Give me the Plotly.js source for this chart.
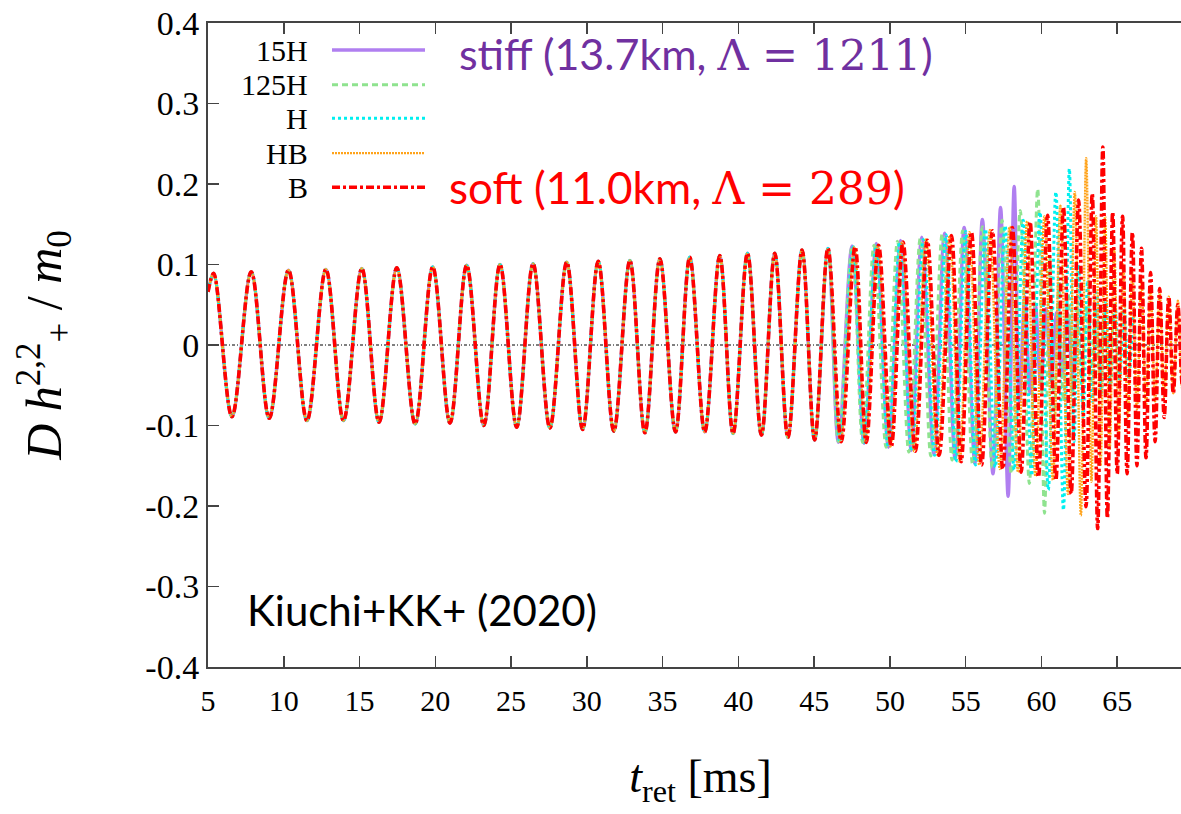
<!DOCTYPE html>
<html>
<head>
<meta charset="utf-8">
<script src="https://cdn.plot.ly/plotly-3.0.1.min.js"></script>
<style>
html,body{margin:0;padding:0;overflow:hidden;background:#fff;}
#chart{width:1200px;height:814px;}
</style>
</head>
<body>
<div id="chart"></div>
<script>
// ---- data: extrema (peaks / troughs), t in ms, h = D h+ / m0 ----
// inspiral part, common to all five models (the curves lie on top of each other)
const sharedT = [5.0, 5.37, 6.58, 7.85, 9.04, 10.31, 11.53, 12.78, 13.94, 15.15, 16.29, 17.46, 18.67, 19.83, 20.97, 22.07, 23.20, 24.27, 25.37, 26.45, 27.56, 28.67, 29.72, 30.75, 31.78, 32.84, 33.83, 34.82, 35.85, 36.79, 37.78, 38.77, 39.65, 40.60, 41.52, 42.40, 43.27, 44.20, 45.03, 45.91];
const sharedH = [0.066, 0.089, -0.089, 0.091, -0.091, 0.093, -0.094, 0.094, -0.094, 0.095, -0.096, 0.096, -0.098, 0.097, -0.097, 0.099, -0.100, 0.100, -0.102, 0.101, -0.103, 0.103, -0.105, 0.104, -0.107, 0.105, -0.109, 0.107, -0.108, 0.109, -0.108, 0.111, -0.110, 0.114, -0.112, 0.114, -0.115, 0.118, -0.118, 0.120];

// late inspiral, merger and post-merger, per model
const t15H = [46.60, 47.50, 48.30, 49.10, 49.90, 50.70, 51.40, 52.10, 52.90, 53.60, 54.30, 54.90, 55.60, 56.10, 56.80, 57.30, 57.80, 58.20, 58.55, 58.90, 59.25, 59.60, 59.95, 60.30, 60.65, 61.00, 61.35, 61.70, 62.05, 62.40];
const h15H = [-0.121, 0.123, -0.122, 0.126, -0.127, 0.130, -0.131, 0.134, -0.136, 0.139, -0.141, 0.146, -0.147, 0.156, -0.160, 0.171, -0.188, 0.197, -0.070, 0.060, -0.060, 0.050, -0.050, 0.045, -0.045, 0.040, -0.040, 0.040, -0.035, 0.035];

const t125H = [46.60, 47.50, 48.20, 48.95, 49.75, 50.50, 51.25, 52.00, 52.70, 53.45, 54.10, 54.80, 55.45, 56.10, 56.75, 57.40, 58.00, 58.60, 59.20, 59.75, 60.20, 60.55, 60.85, 61.15, 61.45, 61.75, 62.05, 62.35, 62.65, 62.95, 63.25, 63.55, 63.85, 64.15, 64.45, 64.75];
const h125H = [-0.120, 0.122, -0.121, 0.124, -0.127, 0.129, -0.133, 0.132, -0.138, 0.138, -0.143, 0.142, -0.148, 0.147, -0.152, 0.155, -0.160, 0.167, -0.172, 0.194, -0.209, 0.110, -0.090, 0.080, -0.070, 0.065, -0.060, 0.055, -0.050, 0.050, -0.045, 0.045, -0.040, 0.040, -0.035, 0.035];

const tH = [46.70, 47.58, 48.30, 49.10, 49.90, 50.65, 51.45, 52.20, 52.95, 53.70, 54.35, 55.00, 55.65, 56.30, 56.95, 57.60, 58.20, 58.80, 59.35, 59.90, 60.45, 60.95, 61.45, 61.84, 62.15, 62.45, 62.75, 63.05, 63.35, 63.65, 63.95, 64.25, 64.55, 64.85, 65.15, 65.45, 65.75, 66.05];
const hH = [-0.120, 0.122, -0.121, 0.124, -0.126, 0.128, -0.132, 0.131, -0.137, 0.137, -0.145, 0.141, -0.149, 0.144, -0.152, 0.148, -0.155, 0.155, -0.162, 0.165, -0.180, 0.190, -0.205, 0.219, -0.120, 0.100, -0.090, 0.080, -0.070, 0.065, -0.060, 0.055, -0.050, 0.050, -0.045, 0.045, -0.040, 0.040];

const tHB = [46.75, 47.65, 48.40, 49.20, 50.03, 50.80, 51.60, 52.38, 53.15, 53.95, 54.60, 55.25, 55.90, 56.60, 57.25, 57.90, 58.45, 59.05, 59.60, 60.20, 60.75, 61.25, 61.75, 62.20, 62.60, 62.95, 63.30, 63.60, 63.90, 64.20, 64.50, 64.80, 65.10, 65.40, 65.70, 66.00, 66.30, 66.60, 66.90, 67.20, 67.50, 67.80, 68.10, 68.40, 68.70, 69.00, 69.30, 69.60, 69.90];
const hHB = [-0.120, 0.122, -0.121, 0.124, -0.126, 0.128, -0.132, 0.131, -0.137, 0.136, -0.145, 0.140, -0.149, 0.143, -0.154, 0.147, -0.158, 0.154, -0.163, 0.160, -0.168, 0.173, -0.185, 0.190, -0.212, 0.232, -0.170, 0.160, -0.150, 0.160, -0.130, 0.120, -0.110, 0.100, -0.090, 0.090, -0.080, 0.080, -0.075, 0.070, -0.070, 0.065, -0.065, 0.060, -0.060, 0.055, -0.055, 0.050, -0.050];

const tB = [46.79, 47.70, 48.44, 49.25, 50.09, 50.86, 51.68, 52.47, 53.25, 54.06, 54.70, 55.38, 56.05, 56.76, 57.45, 58.08, 58.66, 59.25, 59.80, 60.40, 60.95, 61.45, 61.96, 62.45, 62.94, 63.35, 63.71, 64.05, 64.35, 64.70, 65.00, 65.35, 65.65, 66.00, 66.30, 66.60, 66.90, 67.20, 67.50, 67.80, 68.10, 68.40, 68.70, 69.00, 69.30, 69.60, 69.90];
const hB = [-0.120, 0.122, -0.121, 0.124, -0.126, 0.128, -0.132, 0.130, -0.137, 0.136, -0.145, 0.140, -0.149, 0.142, -0.154, 0.146, -0.158, 0.153, -0.164, 0.161, -0.168, 0.171, -0.185, 0.180, -0.201, 0.188, -0.228, 0.246, -0.215, 0.165, -0.160, 0.160, -0.160, 0.140, -0.150, 0.120, -0.140, 0.090, -0.120, 0.070, -0.090, 0.060, -0.060, 0.050, -0.050, 0.045, -0.045];

const modelNames = ["15H", "125H", "H", "HB", "B"];
const xTickVals = [5, 10, 15, 20, 25, 30, 35, 40, 45, 50, 55, 60, 65];
const xTickText = ["5", "10", "15", "20", "25", "30", "35", "40", "45", "50", "55", "60", "65"];
const yTickVals = [0.4, 0.3, 0.2, 0.1, 0, -0.1, -0.2, -0.3, -0.4];
const yTickText = ["0.4", "0.3", "0.2", "0.1", "0", "-0.1", "-0.2", "-0.3", "-0.4"];

// ---- styles ----
const styles = [
  {color: "#b07ff0", width: 3.4, dash: "solid"},
  {color: "#8fe38f", width: 3, dash: "6px,4px"},
  {color: "#00f0f0", width: 3, dash: "3px,3px"},
  {color: "#ffa31a", width: 2.4, dash: "2px,1px"},
  {color: "#ff0000", width: 3.6, dash: "8px,3px,3px,3px"}
];
const lateT = [t15H, t125H, tH, tHB, tB];
const lateH = [h15H, h125H, hH, hHB, hB];

const traces = modelNames.map((name, i) => ({
  type: "scatter", mode: "lines", name: name,
  x: sharedT.concat(lateT[i]), y: sharedH.concat(lateH[i]),
  line: {color: styles[i].color, width: styles[i].width, dash: styles[i].dash, shape: "spline", smoothing: 1},
  showlegend: false, hoverinfo: "skip"
}));

const serif = "Liberation Serif";
const sans = "Lato";
const mathSpan = "<span style='font-family:DejaVu Serif'>";

// hand-made legend (text on the left, sample line on the right, as in the figure)
const legendRowsY = [0.958, 0.904, 0.852, 0.798, 0.745];
const shapes = [
  {type: "line", xref: "x", yref: "y", x0: 5, x1: 70, y0: 0, y1: 0, layer: "below",
   line: {color: "#000", width: 1, dash: "3px,2px,1px,2px"}}
];
const annotations = [];
modelNames.forEach((name, i) => {
  shapes.push({type: "line", xref: "paper", yref: "paper", x0: 0.1259, x1: 0.2203,
    y0: legendRowsY[i], y1: legendRowsY[i],
    line: {color: styles[i].color, width: styles[i].width, dash: styles[i].dash}});
  annotations.push({xref: "paper", yref: "paper", x: 0.1036, y: legendRowsY[i],
    xanchor: "right", yanchor: "middle", showarrow: false, text: name,
    font: {family: serif, size: 30, color: "#000"}});
});
annotations.push({xref: "paper", yref: "paper", x: 0.2528, y: 0.952, xanchor: "left", yanchor: "middle",
  showarrow: false, text: "stiff (13.7km, " + mathSpan + "Λ = 1211</span>)",
  font: {family: sans, size: 43, color: "#7030a0"}});
annotations.push({xref: "paper", yref: "paper", x: 0.2426, y: 0.7438, xanchor: "left", yanchor: "middle",
  showarrow: false, text: "soft (11.0km, " + mathSpan + "Λ = 289</span>)",
  font: {family: sans, size: 44, color: "#ff0000"}});
annotations.push({xref: "paper", yref: "paper", x: 0.0376, y: 0.0885, xanchor: "left", yanchor: "middle",
  showarrow: false, text: "Kiuchi+KK+ (2020)",
  font: {family: sans, size: 42, color: "#000"}});

const layout = {
  width: 1200, height: 814,
  margin: {l: 208, r: 7, t: 23, b: 147},
  font: {family: serif, color: "#000"},
  paper_bgcolor: "#fff", plot_bgcolor: "#fff",
  showlegend: false,
  xaxis: {
    range: [5, 70], tickvals: xTickVals, ticktext: xTickText,
    ticks: "inside", ticklen: 11, tickwidth: 1.5, tickcolor: "#444",
    showline: true, linecolor: "#444", linewidth: 2, mirror: "ticks",
    showgrid: false, zeroline: false,
    tickfont: {family: serif, size: 30, color: "#000"}, ticklabelstandoff: 6,
    title: {text: "<i>t</i><sub>ret</sub> [ms]", font: {family: serif, size: 46, color: "#000"}, standoff: 44}
  },
  yaxis: {
    range: [-0.4, 0.4], tickvals: yTickVals, ticktext: yTickText,
    ticks: "inside", ticklen: 11, tickwidth: 1.5, tickcolor: "#444",
    showline: true, linecolor: "#444", linewidth: 2, mirror: "ticks",
    showgrid: false, zeroline: false,
    tickfont: {family: serif, size: 34, color: "#000"},
    title: {text: "<i>D h</i><sup>2,2</sup><sub>+</sub> / <i>m</i><sub>0</sub>", font: {family: serif, size: 50, color: "#000"}, standoff: 68}
  },
  shapes: shapes,
  annotations: annotations
};

Plotly.newPlot("chart", traces, layout, {displayModeBar: false, staticPlot: true});
</script>
</body>
</html>
